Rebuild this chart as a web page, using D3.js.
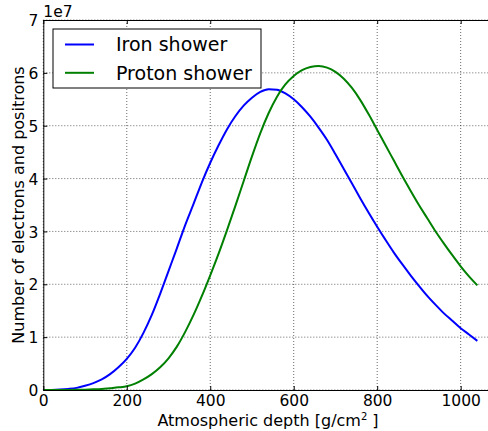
<!DOCTYPE html>
<html>
<head>
<meta charset="utf-8">
<script src="https://cdn.jsdelivr.net/npm/d3@7"></script>
<style>
  html, body { margin: 0; padding: 0; background: #fff; }
  svg { display: block; font-family: "DejaVu Sans", sans-serif; }
</style>
</head>
<body>
<svg id="chart" width="488" height="431"></svg>
<script>
// Atmospheric depth samples [g/cm^2]
const depth = [0, 20, 40, 60, 80, 100, 120, 140, 160, 180, 200, 220, 240, 260, 280, 300,
  320, 340, 360, 380, 400, 420, 440, 460, 480, 500, 520, 540, 560, 580, 600, 620, 640,
  660, 680, 700, 720, 740, 760, 780, 800, 820, 840, 860, 880, 900, 920, 940, 960, 980,
  1000, 1020, 1040];

// Number of electrons and positrons, in units of 1e7
const ironShower = [0, 0.002, 0.008, 0.02, 0.04, 0.08, 0.13, 0.2, 0.3, 0.43, 0.59, 0.8,
  1.08, 1.42, 1.82, 2.25, 2.68, 3.12, 3.52, 3.93, 4.3, 4.63, 4.93, 5.18, 5.38, 5.53, 5.64,
  5.69, 5.68, 5.61, 5.5, 5.35, 5.17, 4.96, 4.73, 4.46, 4.18, 3.9, 3.62, 3.35, 3.09, 2.84,
  2.6, 2.38, 2.17, 1.97, 1.78, 1.61, 1.45, 1.31, 1.17, 1.05, 0.93];

const protonShower = [0, 0, 0.001, 0.002, 0.004, 0.007, 0.012, 0.02, 0.035, 0.05, 0.07,
  0.12, 0.2, 0.3, 0.43, 0.6, 0.82, 1.1, 1.42, 1.78, 2.17, 2.58, 3.02, 3.48, 3.95, 4.42, 4.86,
  5.24, 5.55, 5.78, 5.94, 6.05, 6.11, 6.13, 6.1, 6.02, 5.89, 5.71, 5.48, 5.21, 4.92, 4.63,
  4.34, 4.05, 3.77, 3.5, 3.25, 3.0, 2.77, 2.55, 2.34, 2.15, 1.98];

const seriesNames = ["Iron shower", "Proton shower"];
const seriesColors = ["#0000ff", "#008000"];
const xTicks = [0, 200, 400, 600, 800, 1000];
const yTicks = [0, 1, 2, 3, 4, 5, 6, 7];

const svg = d3.select("#chart");
const plotLeft = 43.3, plotTop = 20, plotBottom = 390;

const x = d3.scaleLinear().domain([0, 1100]).range([plotLeft, plotLeft + 1100 * 0.41736]);
const y = d3.scaleLinear().domain([0, 7]).range([plotBottom, plotTop]);
const plotRight = x(1100);

// grid
const grid = svg.append("g").attr("stroke", "#000").attr("stroke-width", 0.6)
  .attr("stroke-dasharray", "1,2").attr("fill", "none");
xTicks.forEach(t => grid.append("line")
  .attr("x1", x(t)).attr("x2", x(t)).attr("y1", plotTop).attr("y2", plotBottom));
yTicks.forEach(t => grid.append("line")
  .attr("x1", plotLeft).attr("x2", plotRight).attr("y1", y(t)).attr("y2", y(t)));

// series
const line = d3.line().curve(d3.curveMonotoneX).x((d, i) => x(depth[i])).y(d => y(d));
[ironShower, protonShower].forEach((s, k) => {
  svg.append("path").datum(s).attr("d", line)
    .attr("fill", "none").attr("stroke", seriesColors[k]).attr("stroke-width", 2)
    .attr("stroke-linejoin", "round");
});

// axes with inward ticks
const xAxisB = d3.axisBottom(x).tickValues(xTicks).tickFormat(d3.format("d"))
  .tickSizeInner(-4).tickSizeOuter(0).tickPadding(5);
const xAxisT = d3.axisTop(x).tickValues(xTicks).tickFormat("")
  .tickSizeInner(-4).tickSizeOuter(0);
const yAxisL = d3.axisLeft(y).tickValues(yTicks).tickFormat(d3.format("d"))
  .tickSizeInner(-4).tickSizeOuter(0).tickPadding(5);

const gb = svg.append("g").attr("transform", `translate(0,${plotBottom})`).call(xAxisB);
const gt = svg.append("g").attr("transform", `translate(0,${plotTop})`).call(xAxisT);
const gl = svg.append("g").attr("transform", `translate(${plotLeft},0)`).call(yAxisL);
[gb, gt, gl].forEach(g => {
  g.select(".domain").attr("stroke", "#000").attr("stroke-width", 1);
  g.selectAll(".tick line").attr("stroke", "#000").attr("stroke-width", 1);
  g.selectAll("text").attr("fill", "#000").style("font-size", "15.5px")
    .style("font-family", "DejaVu Sans, sans-serif");
});
gl.selectAll(".tick text").attr("dy", "0.36em");

// offset text
svg.append("text").attr("x", plotLeft).attr("y", 17).style("font-size", "15.5px").text("1e7");

// axis labels
const xl = svg.append("text").attr("x", 268).attr("y", 426)
  .attr("text-anchor", "middle").style("font-size", "16px");
xl.append("tspan").text("Atmospheric depth [g/cm");
xl.append("tspan").attr("dy", -6).style("font-size", "10px").text("2");
xl.append("tspan").attr("dy", 6).text(" ]");

svg.append("text").attr("transform", `translate(24,${(plotTop + plotBottom) / 2}) rotate(-90)`)
  .attr("text-anchor", "middle").style("font-size", "16px")
  .text("Number of electrons and positrons");

// legend
const lg = svg.append("g");
lg.append("rect").attr("x", 53).attr("y", 29).attr("width", 208).attr("height", 59)
  .attr("fill", "#fff").attr("stroke", "#000").attr("stroke-width", 1);
seriesNames.forEach((n, k) => {
  const yy = 44.5 + k * 28.3;
  lg.append("line").attr("x1", 65).attr("x2", 94).attr("y1", yy).attr("y2", yy)
    .attr("stroke", seriesColors[k]).attr("stroke-width", 2);
  lg.append("text").attr("x", 116).attr("y", yy).attr("dy", "0.36em")
    .style("font-size", "19px").text(n);
});
</script>
</body>
</html>
